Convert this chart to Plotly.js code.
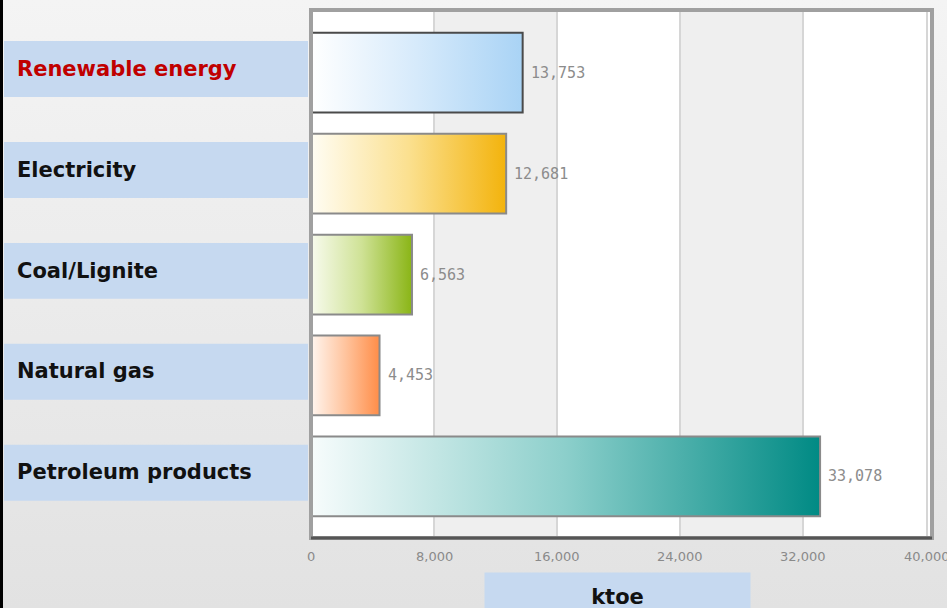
<!DOCTYPE html>
<html><head><meta charset="utf-8">
<script src="https://cdn.plot.ly/plotly-3.0.1.min.js"></script>
<style>
html,body{margin:0;padding:0;}
body{width:947px;height:608px;overflow:hidden;
 background:linear-gradient(to right,#000 0,#000 3px,rgba(0,0,0,0) 3px),linear-gradient(#f4f4f4,#e2e2e2);}
#chart{width:947px;height:608px;}
</style></head><body><div id="chart"></div>
<script>
const categories = ["Renewable energy","Electricity","Coal/Lignite","Natural gas","Petroleum products"];
const values = [13753, 12681, 6563, 4453, 33078];
const valueLabels = ["13,753","12,681","6,563","4,453","33,078"];
const tickValues = [0,8000,16000,24000,32000,40000];
const tickLabels = ["0","8,000","16,000","24,000","32,000","40,000"];
const labelColors = ["#c00000","#111111","#111111","#111111","#111111"];
const barBorderColors = ["#4a4a4a","#8a8a8a","#8a8a8a","#8a8a8a","#8a8a8a"];
const gradientStops = [
  ["#ffffff","#d6eafb","#a9d3f5"],
  ["#fffdf4","#fbe08f","#f3b30c"],
  ["#f8fbee","#cfe296","#8ab516"],
  ["#fff6f0","#ffc49e","#ff8d48"],
  ["#f7fcfc","#8ccfcb","#008a84"]
];

const L = 311, R = 15, T = 10, B = 70;
const W = 947 - L - R, H = 608 - T - B;
const px = p => (p - L) / W;

const shapes = [];
for (let k = 1; k < tickValues.length - 1; k += 2) {
  shapes.push({type:'rect', xref:'x', yref:'paper', x0:tickValues[k], x1:tickValues[k+1], y0:0, y1:1,
    fillcolor:'#efefef', line:{width:0}, layer:'below'});
}
categories.forEach((c, i) => {
  shapes.push({type:'rect', xref:'paper', yref:'y', x0:px(4), x1:px(308), y0:i-0.313, y1:i+0.241,
    fillcolor:'#c6d9f0', line:{width:0}, layer:'below'});
});
shapes.push({type:'rect', xref:'paper', yref:'paper', x0:0, x1:1, y0:0, y1:1,
  line:{color:'#a0a0a0', width:4}, fillcolor:'rgba(0,0,0,0)', layer:'above'});
shapes.push({type:'line', xref:'paper', yref:'paper', x0:0, x1:1, y0:0, y1:0,
  line:{color:'#555555', width:3}, layer:'above'});

const annotations = [];
categories.forEach((c, i) => {
  annotations.push({xref:'paper', yref:'y', x:px(15), y:c, xanchor:'left', yanchor:'middle', yshift:4,
    text:c, showarrow:false, font:{family:'DejaVu Sans', size:21, color:labelColors[i], weight:'bold'}});
  annotations.push({xref:'x', yref:'y', x:values[i], y:c, xanchor:'left', yanchor:'middle', xshift:6,
    text:valueLabels[i], showarrow:false, font:{family:'DejaVu Sans Mono', size:15, color:'#8c8c8c'}});
});
tickValues.forEach((v, k) => {
  annotations.push({xref:'x', yref:'paper', x:v, y:-(547-538)/H, xanchor:'center', yanchor:'top',
    text:tickLabels[k], showarrow:false, font:{family:'DejaVu Sans', size:13, color:'#8a8a8a'}});
});
annotations.push({xref:'paper', yref:'paper', x:px(617.5), y:-(572-538)/H, xanchor:'center', yanchor:'top',
  text:'ktoe', showarrow:false, bgcolor:'#c6d9f0', width:265, height:48, borderpad:0, valign:'middle',
  font:{family:'DejaVu Sans', size:21, color:'#111111', weight:'bold'}});

const trace = {
  type:'bar', orientation:'h', x:values, y:categories, width:0.79,
  marker:{color:gradientStops.map(g => g[2]), line:{color:barBorderColors, width:2}},
  hoverinfo:'none', cliponaxis:true
};

const layout = {
  width:947, height:608, margin:{l:L, r:R, t:T, b:B},
  paper_bgcolor:'rgba(0,0,0,0)', plot_bgcolor:'#ffffff',
  showlegend:false,
  xaxis:{range:[0,40350], tickvals:tickValues, showticklabels:false, showgrid:true, gridcolor:'#d6d6d6', gridwidth:2,
    zeroline:false, ticks:''},
  yaxis:{type:'category', categoryarray:categories, range:[4.61,-0.62], showticklabels:false,
    showgrid:false, zeroline:false, ticks:''},
  shapes:shapes, annotations:annotations
};

Plotly.newPlot('chart', [trace], layout, {staticPlot:true, displayModeBar:false}).then(gd => {
  const svg = gd.querySelector('.main-svg');
  let defs = svg.querySelector('defs');
  if (!defs) { defs = document.createElementNS('http://www.w3.org/2000/svg','defs'); svg.insertBefore(defs, svg.firstChild); }
  gradientStops.forEach((stops, i) => {
    const lg = document.createElementNS('http://www.w3.org/2000/svg','linearGradient');
    lg.setAttribute('id','bargrad'+i);
    lg.setAttribute('x1','0'); lg.setAttribute('x2','1'); lg.setAttribute('y1','0'); lg.setAttribute('y2','0');
    stops.forEach((col, j) => {
      const s = document.createElementNS('http://www.w3.org/2000/svg','stop');
      s.setAttribute('offset', (j/(stops.length-1)).toString());
      s.setAttribute('stop-color', col);
      lg.appendChild(s);
    });
    defs.appendChild(lg);
  });
  const paths = gd.querySelectorAll('.barlayer .point path');
  paths.forEach((p, i) => { p.style.fill = 'url(#bargrad'+i+')'; });
});
</script></body></html>
